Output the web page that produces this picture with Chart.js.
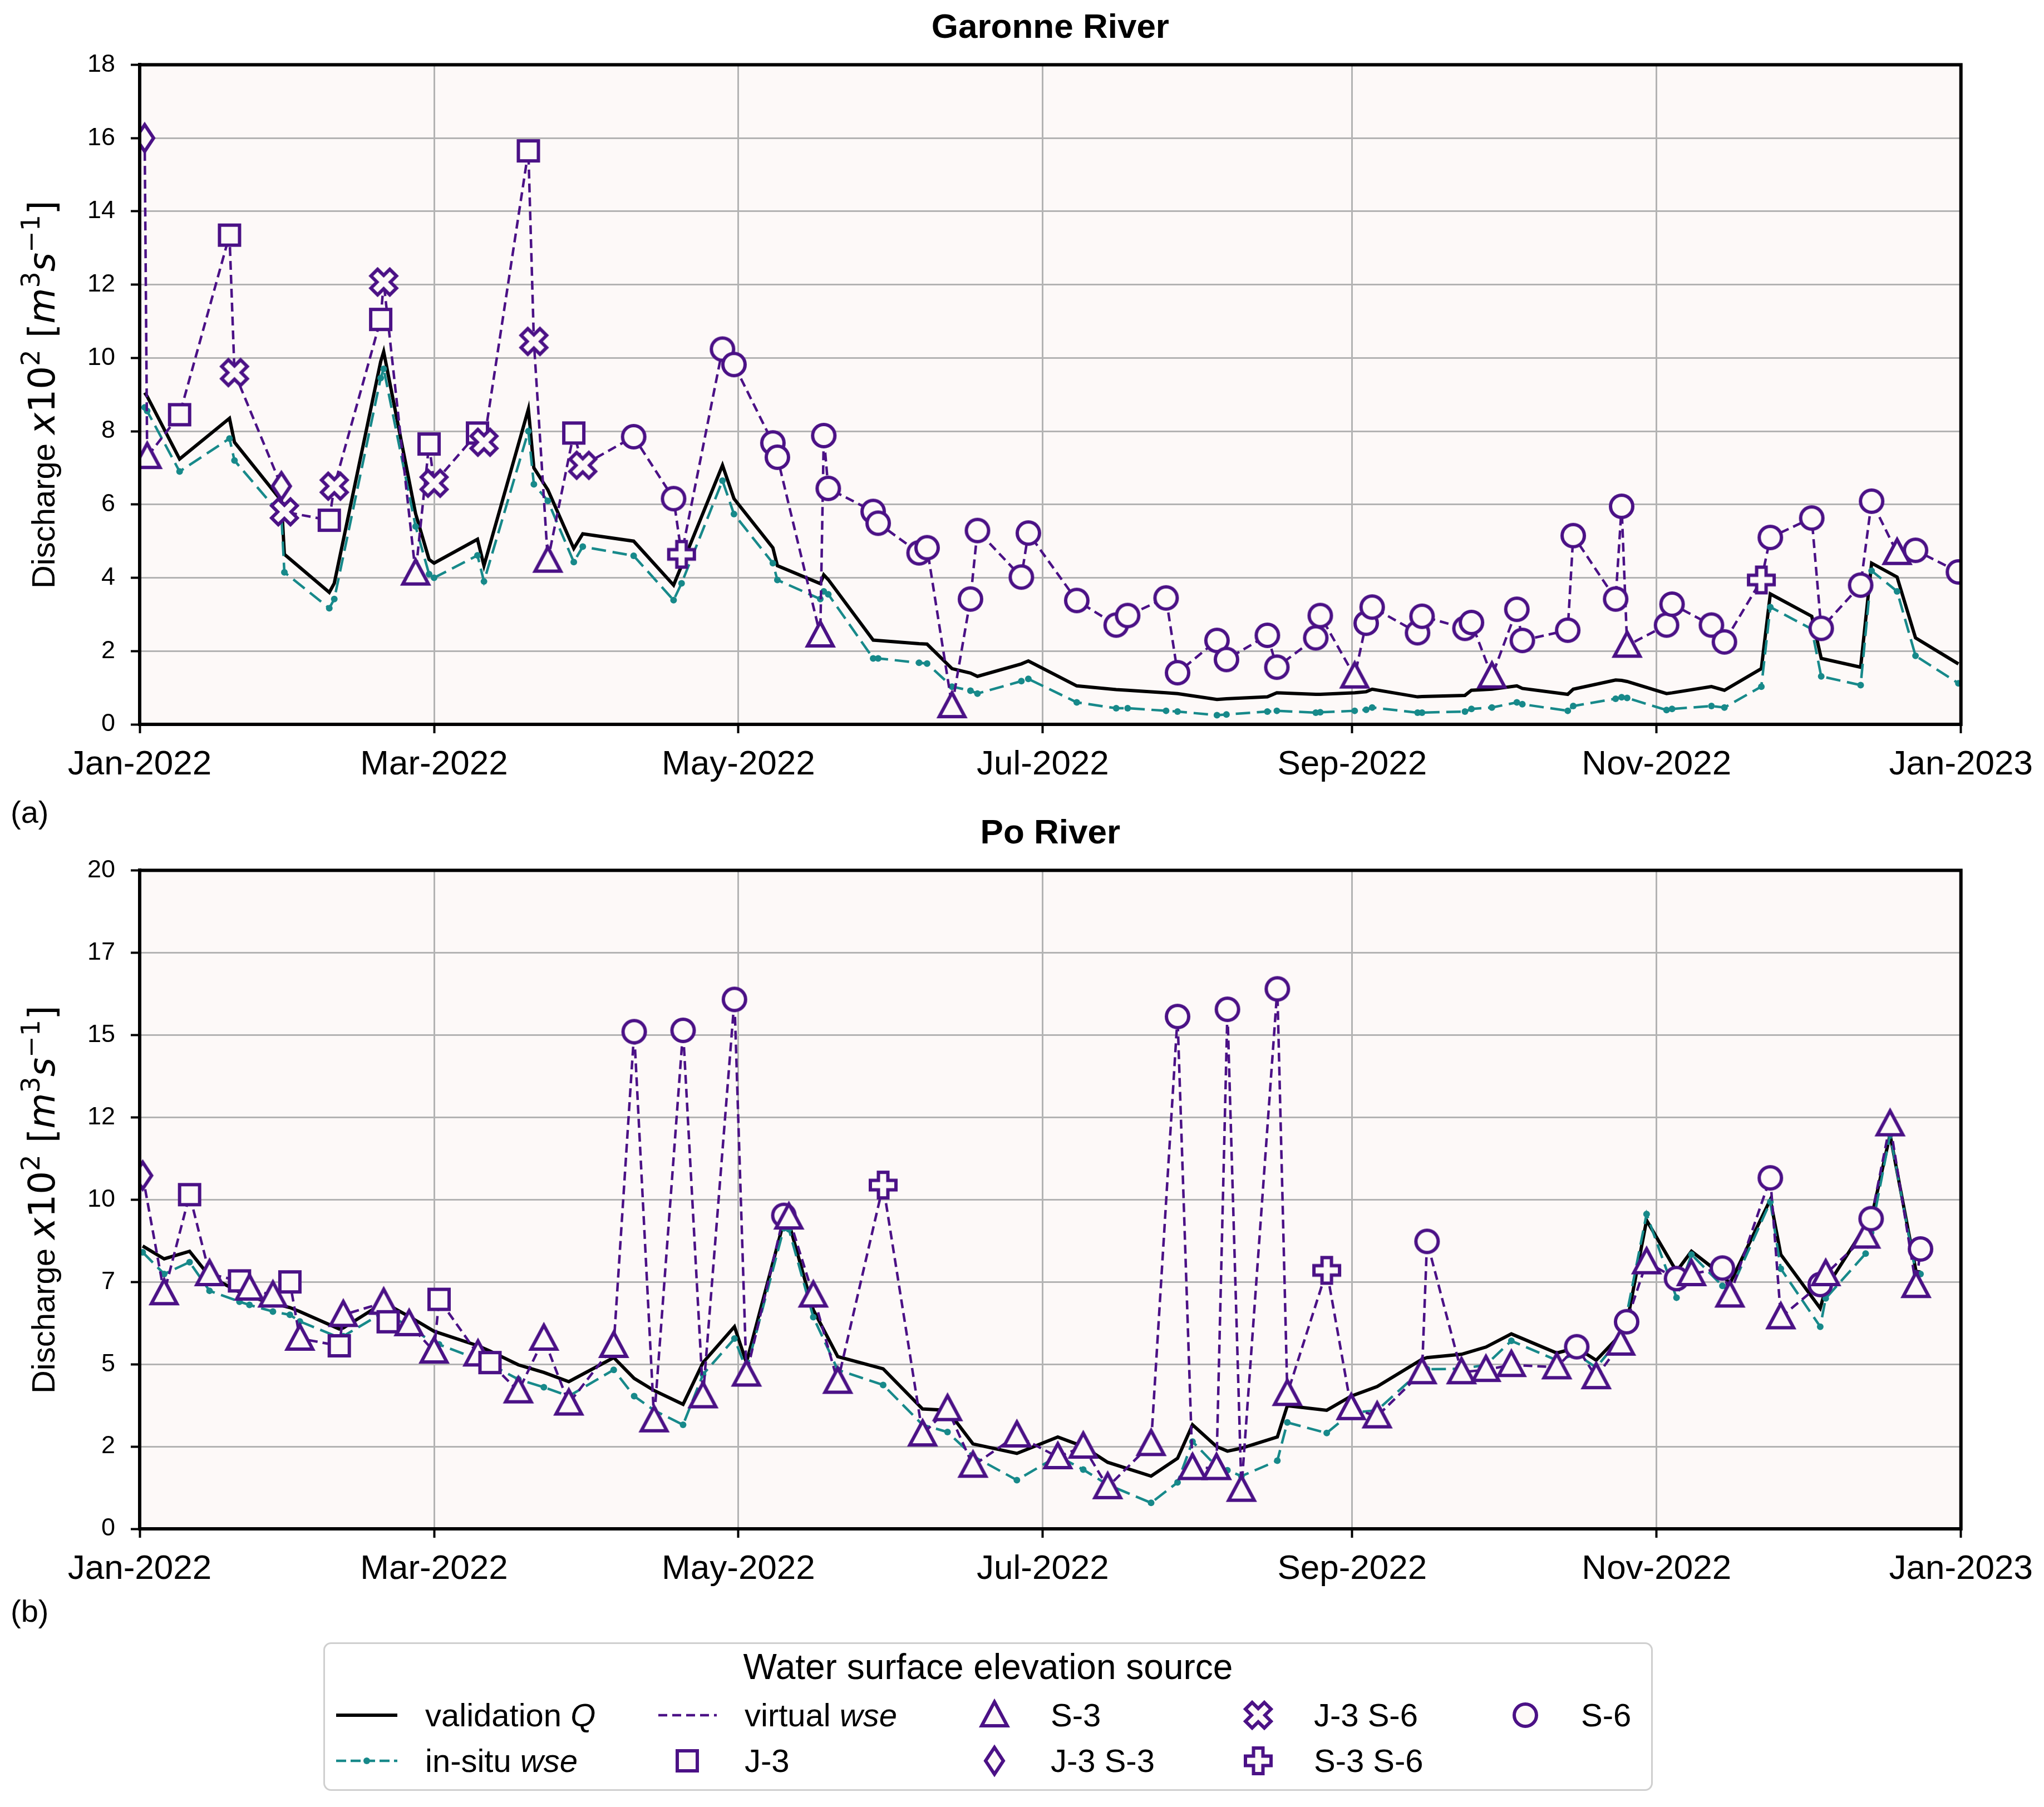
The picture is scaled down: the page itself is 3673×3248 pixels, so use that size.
<!DOCTYPE html>
<html><head><meta charset="utf-8">
<script src="https://cdn.jsdelivr.net/npm/chart.js@4.4.1/dist/chart.umd.min.js"></script>
<style>
html,body{margin:0;padding:0;background:#fff;}
body{width:3673px;height:3248px;position:relative;overflow:hidden;font-family:'Liberation Sans',Arial,sans-serif;}
#cA{position:absolute;left:0;top:0;}
#cB{position:absolute;left:0;top:1450px;}
#legend{position:absolute;left:581px;top:2952px;width:2383px;height:261px;border:3px solid #cfcfcf;border-radius:14px;background:#fff;}
#legCanvas{position:absolute;left:0;top:0;}
.lt{position:absolute;font-size:58px;color:#000;white-space:nowrap;line-height:58px;height:58px;}
#legTitle{position:absolute;left:0;top:9px;width:100%;text-align:center;font-size:64px;line-height:64px;color:#000;}
</style></head>
<body>
<canvas id="cA" width="3673" height="1500"></canvas>
<canvas id="cB" width="3673" height="1500"></canvas>
<div id="legend">
  <canvas id="legCanvas" width="2383" height="261"></canvas>
  <div id="legTitle">Water surface elevation source</div>
  <div class="lt" style="left:180px;top:99px;">validation <i>Q</i></div>
  <div class="lt" style="left:180px;top:181px;">in-situ <i>wse</i></div>
  <div class="lt" style="left:754px;top:99px;">virtual <i>wse</i></div>
  <div class="lt" style="left:754px;top:181px;">J-3</div>
  <div class="lt" style="left:1304px;top:99px;">S-3</div>
  <div class="lt" style="left:1304px;top:181px;">J-3 S-3</div>
  <div class="lt" style="left:1777px;top:99px;">J-3 S-6</div>
  <div class="lt" style="left:1777px;top:181px;">S-3 S-6</div>
  <div class="lt" style="left:2257px;top:99px;">S-6</div>
</div>
<script>
// ---------------- DATA ----------------
// x values: days since 1 Jan 2022
const tickDays = [0, 59, 120, 181, 243, 304, 365];
const tickLabels = ['Jan-2022','Mar-2022','May-2022','Jul-2022','Sep-2022','Nov-2022','Jan-2023'];

const garonneYTicks = [0,2,4,6,8,10,12,14,16,18];
const garonneYLabels = ['0','2','4','6','8','10','12','14','16','18'];
const poYTicks = [0,2.5,5,7.5,10,12.5,15,17.5,20];
const poYLabels = ['0','2','5','7','10','12','15','17','20'];

const garonneDay = [1,1.5,8,18,19, 28.4,29,38,39,48.3, 48.9,55.3,58,59,67.7, 69,77.9,79,81.8,87,
  88.8,99,107,108.6,116.8, 119.1,126.9,127.8,136.4,137.1, 138,147,148,156.2,157.8, 162.8,166.5,167.9,176.7,178.1,
  187.8,195.7,198,205.7,208, 215.9,217.8,226,227.9,235.7, 236.6,243.5,245.8,247,256.1, 257,265.6,266.9,271,276,
  277.1,286.2,287.3,295.8,297, 298.1,306,307.1,315,317.6, 325,326.8,335.1,337,344.9, 347.1,352.2,355.9,364.5];
const garonneQ = [9.05,8.95,7.24,8.35,7.7, 6.1,4.64,3.6,3.85,9.9, 10.17,5.75,4.5,4.4,5.05, 4.33,8.6,7.0,6.4,4.8,
  5.2,5.0,3.8,4.33,7.07, 6.16,4.82,4.33,3.84,4.08, 3.95,2.3,2.29,2.2,2.19, 1.52,1.4,1.31,1.65,1.73,
  1.05,0.95,0.93,0.86,0.84, 0.68,0.7,0.75,0.86,0.82, 0.82,0.86,0.89,0.96,0.75, 0.76,0.79,0.93,0.96,1.05,
  0.98,0.82,0.96,1.21,1.2, 1.17,0.84,0.86,1.03,0.93, 1.52,3.56,2.95,1.8,1.56, 4.4,4.02,2.36,1.65];
const garonneInSitu = [8.65,8.55,6.9,7.8,7.2, 5.7,4.15,3.17,3.42,9.45, 9.7,5.4,4.1,4.0,4.61, 3.9,8.0,6.55,6.1,4.43,
  4.85,4.6,3.39,3.85,6.65, 5.74,4.4,3.94,3.42,3.63, 3.55,1.8,1.8,1.68,1.66, 1.03,0.92,0.84,1.18,1.24,
  0.6,0.44,0.44,0.37,0.35, 0.25,0.27,0.35,0.37,0.32, 0.33,0.37,0.4,0.46,0.32, 0.32,0.35,0.42,0.46,0.6,
  0.55,0.37,0.5,0.7,0.74, 0.72,0.39,0.42,0.5,0.46, 1.03,3.2,2.6,1.31,1.07, 4.19,3.63,1.87,1.12];
const garonneVirtual = [16.0,7.3,8.45,13.35,9.6, 6.5,5.8,5.57,6.5,11.05, 12.07,4.12,7.65,6.58,7.95, 7.7,15.65,10.45,4.47,7.95,
  7.07,7.85,6.16,4.64,10.24, 9.82,7.68,7.29,2.43,7.88, 6.44,5.81,5.49,4.68,4.82, 0.5,3.42,5.29,4.02,5.22,
  3.38,2.71,2.97,3.45,1.41, 2.29,1.77,2.43,1.56,2.36, 2.97,1.31,2.76,3.2,2.5, 2.95,2.62,2.78,1.31,3.14,
  2.29,2.57,5.15,3.42,5.95, 2.15,2.71,3.28,2.71,2.25, 3.94,5.1,5.63,2.62,3.8, 6.09,4.68,4.75,4.16];
const garonneSource = ['J3S3','S3','J3','J3','J3S6', 'J3S3','J3S6','J3','J3S6','J3', 'J3S6','S3','J3','J3S6','J3', 'J3S6','J3','J3S6','S3','J3',
  'J3S6','S6','S6','S3S6','S6', 'S6','S6','S6','S3','S6', 'S6','S6','S6','S6','S6', 'S3','S6','S6','S6','S6',
  'S6','S6','S6','S6','S6', 'S6','S6','S6','S6','S6', 'S6','S3','S6','S6','S6', 'S6','S6','S6','S3','S6',
  'S6','S6','S6','S6','S6', 'S3','S6','S6','S6','S6', 'S3S6','S6','S6','S6','S6', 'S6','S3','S6','S6'];

const poDay = [0.6,4.9,10,14,20, 22,26.7,30.1,32.1,40, 40.8,48.9,49.8,54,59, 60,67.8,70.2,75.9,81,
  86,95,99.1,103.1,108.9, 112.9,119.2,121.6,129.1,130.1, 135,139.9,149,156.9,161.9, 167,175.8,184,189.1,194,
  202.7,208,211,215.8,218, 220.8,228,230,237.9,242.8, 248,257,258,264.9,269.8, 274.9,284,288,291.9,296.8,
  298,302,308,311,317.2, 318.7,326.8,328.9,336.8,337.9, 345.9,347,350.8,356,356.9];
const poQ = [8.59,8.2,8.43,7.67,7.19, 7.05,6.85,6.72,6.6,6.07, 6.1,6.87,6.8,6.45,6.0, 5.95,5.56,5.4,4.98,4.75,
  4.47,5.2,4.57,4.2,3.78, 5.05,6.14,5.05,9.34,9.3, 6.65,5.23,4.86,3.64,3.6, 2.58,2.29,2.79,2.5,2.02,
  1.6,2.14,3.16,2.5,2.36, 2.45,2.79,3.74,3.6,4.03, 4.32,5.15,5.2,5.3,5.52, 5.92,5.34,5.5,5.12,5.9,
  6.21,9.37,7.82,8.43,7.7, 7.45,10.0,8.33,6.7,7.3, 9.2,9.4,11.97,7.82,7.8];
const poInSitu = [8.4,7.74,8.1,7.23,6.9, 6.8,6.6,6.5,6.3,5.81, 5.85,6.58,6.5,6.15,5.63, 5.6,5.15,5.0,4.54,4.3,
  4.03,4.83,4.03,3.6,3.16, 4.69,5.78,4.83,9.13,9.1, 6.43,4.83,4.37,3.16,2.94, 2.21,1.48,2.21,1.8,1.34,
  0.79,1.41,2.65,1.9,1.78, 1.6,2.07,3.23,2.91,3.52, 3.6,4.83,4.85,4.86,4.98, 5.71,5.12,5.3,4.9,5.8,
  6.5,9.56,7.02,8.33,7.38, 7.2,9.93,7.9,6.14,7.0, 8.36,9.0,11.97,7.74,7.74];
const poVirtual = [10.73,7.16,10.15,7.74,7.53, 7.3,7.09,7.5,5.78,5.56, 6.5,6.87,6.29,6.22,5.39, 6.97,5.3,5.05,4.18,5.78,
  3.81,5.56,15.1,3.3,15.14, 4.03,16.08,4.69,9.52,9.46, 7.09,4.47,10.44,2.87,3.64, 1.92,2.84,2.18,2.5,1.27,
  2.58,15.56,1.85,1.85,15.78, 1.19,16.4,4.1,7.85,3.67, 3.42,4.76,8.73,4.76,4.83, 4.98,4.91,5.53,4.61,5.63,
  6.29,8.1,7.6,7.74,7.92, 7.09,10.66,6.43,7.42,7.74, 8.88,9.42,12.29,7.38,8.5];
const poSource = ['J3S3','S3','J3','S3','J3', 'S3','S3','J3','S3','J3', 'S3','S3','J3','S3','S3', 'J3','S3','J3','S3','S3',
  'S3','S3','S6','S3','S6', 'S3','S6','S3','S6','S3', 'S3','S3','S3S6','S3','S3', 'S3','S3','S3','S3','S3',
  'S3','S6','S3','S3','S6', 'S3','S6','S3','S3S6','S3', 'S3','S3','S6','S3','S3', 'S3','S3','S6','S3','S3',
  'S6','S3','S6','S3','S6', 'S3','S6','S3','S6','S3', 'S3','S6','S3','S3','S6'];

// ---------------- STYLE ----------------
const FONT = "'Liberation Sans', Arial, sans-serif";
const MATH = "'DejaVu Sans', sans-serif";
const PURPLE = '#4b1186', TEAL = '#17898a', PLOTBG = '#fdf9f8';
Chart.defaults.font.family = FONT;
Chart.defaults.color = '#000';

function markerPath(ctx, type, x, y) {
  ctx.beginPath();
  if (type === 'S6') { ctx.arc(x, y, 20, 0, Math.PI * 2); }
  else if (type === 'J3') { ctx.rect(x - 18, y - 18, 36, 36); }
  else if (type === 'S3') { ctx.moveTo(x, y - 24); ctx.lineTo(x + 23, y + 19); ctx.lineTo(x - 23, y + 19); ctx.closePath(); }
  else if (type === 'J3S3') { ctx.moveTo(x, y - 24); ctx.lineTo(x + 16, y); ctx.lineTo(x, y + 24); ctx.lineTo(x - 16, y); ctx.closePath(); }
  else {
    const a = type === 'J3S6' ? 24 : 23, b = 8.5;
    const pts = [[-b,-a],[b,-a],[b,-b],[a,-b],[a,b],[b,b],[b,a],[-b,a],[-b,b],[-a,b],[-a,-b],[-b,-b]];
    const r = type === 'J3S6' ? Math.PI / 4 : 0;
    const c = Math.cos(r), s = Math.sin(r);
    pts.forEach((p, i) => { const px = x + p[0]*c - p[1]*s, py = y + p[0]*s + p[1]*c; if (i) ctx.lineTo(px, py); else ctx.moveTo(px, py); });
    ctx.closePath();
  }
}
function drawMarker(ctx, type, x, y) {
  ctx.save(); markerPath(ctx, type, x, y);
  ctx.fillStyle = PLOTBG; ctx.fill();
  ctx.lineWidth = 6; ctx.strokeStyle = PURPLE; ctx.lineJoin = 'miter'; ctx.stroke();
  ctx.restore();
}
const markerImg = {};
['S3','J3','J3S3','J3S6','S3S6','S6'].forEach(t => {
  const c = document.createElement('canvas'); c.width = 76; c.height = 76;
  drawMarker(c.getContext('2d'), t, 38, 38); markerImg[t] = c;
});

function drawYLabel(ctx, cx, cy) {
  const parts = [
    {t: 'Discharge ', f: '58px ' + FONT, dy: 0},
    {t: 'x', f: 'italic 66px ' + MATH, dy: 0},
    {t: '10', f: '66px ' + MATH, dy: 0},
    {t: '2', f: '46px ' + MATH, dy: -27},
    {t: ' [', f: '66px ' + MATH, dy: 0},
    {t: 'm', f: 'italic 66px ' + MATH, dy: 0},
    {t: '3', f: '46px ' + MATH, dy: -27},
    {t: 's', f: 'italic 66px ' + MATH, dy: 0},
    {t: '\u22121', f: '46px ' + MATH, dy: -27},
    {t: ']', f: '66px ' + MATH, dy: 0}
  ];
  ctx.save();
  let total = 0;
  parts.forEach(p => { ctx.font = p.f; p.w = ctx.measureText(p.t).width; total += p.w; });
  ctx.translate(cx, cy); ctx.rotate(-Math.PI / 2);
  ctx.fillStyle = '#000'; ctx.textBaseline = 'alphabetic'; ctx.textAlign = 'left';
  let x = -total / 2;
  parts.forEach(p => { ctx.font = p.f; ctx.fillText(p.t, x, p.dy); x += p.w; });
  ctx.restore();
}

const framePlugin = {
  id: 'framePlugin',
  beforeDraw(chart) {
    const {ctx, chartArea: a} = chart;
    ctx.save(); ctx.fillStyle = PLOTBG; ctx.fillRect(a.left, a.top, a.right - a.left, a.bottom - a.top); ctx.restore();
  },
  afterDraw(chart, args, opts) {
    const {ctx, chartArea: a} = chart;
    ctx.save(); ctx.strokeStyle = '#000'; ctx.lineWidth = 6;
    ctx.strokeRect(a.left, a.top, a.right - a.left, a.bottom - a.top);
    ctx.fillStyle = '#000'; ctx.font = '56px ' + FONT; ctx.textBaseline = 'middle'; ctx.textAlign = 'left';
    ctx.fillText(opts.label, 19, opts.labelY);
    ctx.restore();
    drawYLabel(ctx, 98, (a.top + a.bottom) / 2);
  }
};

function makeChart(id, title, days, q, insitu, virt, src, yTicks, yLabels, yMax, xH, titleTop, label, labelY) {
  const pts = arr => days.map((d, i) => ({x: d, y: arr[i]}));
  return new Chart(document.getElementById(id), {
    type: 'line',
    data: { datasets: [
      { label: 'virtual wse', data: pts(virt), borderColor: PURPLE, borderWidth: 4.5, borderDash: [16, 9],
        pointStyle: c => markerImg[src[c.dataIndex]], pointRadius: 12, tension: 0, order: 0 },
      { label: 'in-situ wse', data: pts(insitu), borderColor: TEAL, borderWidth: 4.5, borderDash: [26, 12],
        pointStyle: 'circle', pointRadius: 6, pointBackgroundColor: TEAL, pointBorderWidth: 0, tension: 0, order: 1 },
      { label: 'validation Q', data: pts(q), borderColor: '#000', borderWidth: 6, pointRadius: 0, tension: 0, order: 2 }
    ]},
    options: {
      responsive: false, animation: false, devicePixelRatio: 1,
      layout: { padding: { left: 0, right: 143, top: 0, bottom: 0 } },
      plugins: {
        legend: { display: false }, tooltip: { enabled: false },
        title: { display: true, text: title, fullSize: false, font: { size: 62, weight: 'bold', family: FONT }, color: '#000',
                 padding: { top: titleTop, bottom: 28 } },
        framePlugin: { label: label, labelY: labelY }
      },
      scales: {
        x: { type: 'linear', min: 0, max: 365,
          afterBuildTicks: s => { s.ticks = tickDays.map(v => ({value: v})); },
          ticks: { callback: (v, i) => tickLabels[i], font: { size: 62, family: FONT }, color: '#000', padding: 20, maxRotation: 0, autoSkip: false },
          grid: { color: '#b3b3b3', lineWidth: 3, tickColor: '#000', tickWidth: 4, tickLength: 16 },
          border: { display: true, color: '#000', width: 6 },
          afterFit: s => { s.height = xH; } },
        y: { type: 'linear', min: 0, max: yMax,
          afterBuildTicks: s => { s.ticks = yTicks.map(v => ({value: v})); },
          ticks: { callback: (v, i) => yLabels[i], font: { size: 45, family: FONT }, color: '#000', padding: 28, autoSkip: false },
          grid: { color: '#b3b3b3', lineWidth: 3, tickColor: '#000', tickWidth: 4, tickLength: 16 },
          border: { display: true, color: '#000', width: 6 },
          title: { display: false },
          afterFit: s => { s.width = 251; } }
      }
    },
    plugins: [framePlugin]
  });
}

makeChart('cA', 'Garonne River', garonneDay, garonneQ, garonneInSitu, garonneVirtual, garonneSource,
  garonneYTicks, garonneYLabels, 18, 198, 14, '(a)', 1464);
makeChart('cB', 'Po River', poDay, poQ, poInSitu, poVirtual, poSource,
  poYTicks, poYLabels, 20, 202, 12, '(b)', 1450);

// ---------------- LEGEND SYMBOLS ----------------
(function () {
  const ctx = document.getElementById('legCanvas').getContext('2d');
  ctx.lineCap = 'butt';
  ctx.strokeStyle = '#000'; ctx.lineWidth = 6;
  ctx.beginPath(); ctx.moveTo(20, 128); ctx.lineTo(130, 128); ctx.stroke();
  ctx.strokeStyle = TEAL; ctx.lineWidth = 4.5; ctx.setLineDash([18, 8]);
  ctx.beginPath(); ctx.moveTo(20, 210); ctx.lineTo(130, 210); ctx.stroke();
  ctx.setLineDash([]); ctx.fillStyle = TEAL; ctx.beginPath(); ctx.arc(75, 210, 6, 0, Math.PI * 2); ctx.fill();
  ctx.strokeStyle = PURPLE; ctx.lineWidth = 4.5; ctx.setLineDash([16, 9]);
  ctx.beginPath(); ctx.moveTo(599, 128); ctx.lineTo(704, 128); ctx.stroke(); ctx.setLineDash([]);
  drawMarker(ctx, 'J3', 651, 210);
  drawMarker(ctx, 'S3', 1203, 128);
  drawMarker(ctx, 'J3S3', 1203, 210);
  drawMarker(ctx, 'J3S6', 1677, 128);
  drawMarker(ctx, 'S3S6', 1677, 210);
  drawMarker(ctx, 'S6', 2157, 128);
})();
</script>
</body></html>
